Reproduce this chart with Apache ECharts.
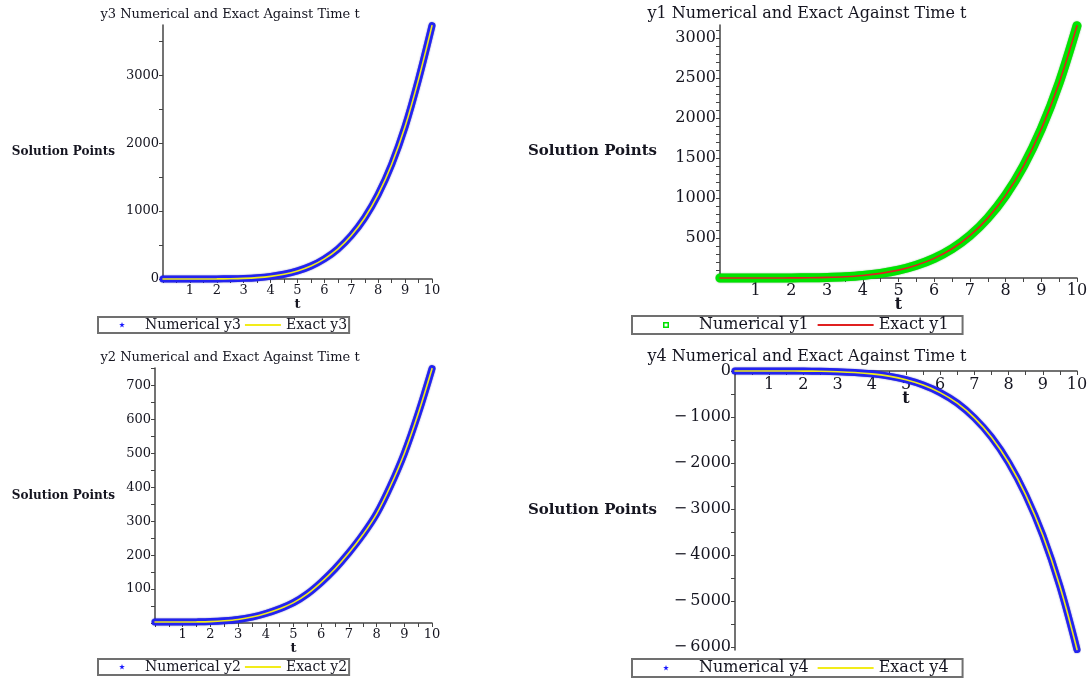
<!DOCTYPE html>
<html>
<head>
<meta charset="utf-8">
<script src="https://cdn.jsdelivr.net/npm/echarts@6/dist/echarts.min.js"></script>
<style>
html,body{margin:0;padding:0;background:#fff;}
#chart{width:1092px;height:681px;}
</style>
</head>
<body>
<div id="chart"></div>
<script>
// ---- data ----
const tPoints = [0,0.5,1,1.5,2,2.5,3,3.5,4,4.5,5,5.5,6,6.5,7,7.5,8,8.5,9,9.5,10];
const y1Values = [0,0,0,0.2,1,3,7.7,16.5,32,58,98,159,245,365,529,748,1032,1398,1860,2437,3150];
const y2Values = [3,3,3,3.3,4.2,6.5,10.5,17.5,28,42,60,86,120,160,207,260,322,404,500,617,750];
const y3Values = [0,0,0,0.3,1.2,3.7,9.2,20,39,70,119,191,296,441,640,902,1245,1686,2244,2940,3730];
const y4Values = [0,0,0,-0.5,-2,-6,-15,-32,-62,-112,-190,-306,-470,-700,-1020,-1440,-1990,-2695,-3575,-4685,-6060];

const titles = [
  'y3 Numerical and Exact Against Time t',
  'y1 Numerical and Exact Against Time t',
  'y2 Numerical and Exact Against Time t',
  'y4 Numerical and Exact Against Time t'
];
const xTickLabels = [1,2,3,4,5,6,7,8,9,10];
const y3TickLabels = [0,1000,2000,3000];
const y1TickLabels = [500,1000,1500,2000,2500,3000];
const y2TickLabels = [100,200,300,400,500,600,700];
const y4TickLabels = [0,-1000,-2000,-3000,-4000,-5000,-6000];

// ---- helpers ----
function pairs(ys){ return tPoints.map((t,i)=>[t, ys[i]]); }
function range(a,b,s){ const r=[]; for(let v=a; v<=b+1e-9; v+=s) r.push(+v.toFixed(6)); return r; }
const FONT = 'DejaVu Serif';
const TXT = '#151520';
const AXIS = '#444';

const starIcon = 'path://M0,0M36,10M18,2L18.71,4.03L20.85,4.07L19.14,5.37L19.76,7.43L18,6.2L16.24,7.43L16.86,5.37L15.15,4.07L17.29,4.03Z';
const starIconR = 'path://M0,0M56,10M28,2L28.71,4.03L30.85,4.07L29.14,5.37L29.76,7.43L28,6.2L26.24,7.43L26.86,5.37L25.15,4.07L27.29,4.03Z';
const lineIcon = 'path://M0,4L36,4L36,6L0,6Z';
const lineIconR = 'path://M0,4L52,4L52,6L0,6Z';
const squareIcon = 'path://M0,0M56,10M25,2L31,2L31,8L25,8ZM26.5,3.5L26.5,6.5L29.5,6.5L29.5,3.5Z';

const panels = [
  {grid:{left:163, top:25, width:269, height:254}, ys:y3Values, key:'y3', min:0, max:3740, ticks:y3TickLabels,
   tickVals:range(0,3500,500), fs:13, nameFs:12, nameGap:48, title:{x:225,y:3}, legend:{left:98, top:317}, right:false, top:false},
  {grid:{left:720, top:25, width:357, height:253}, ys:y1Values, key:'y1', min:0, max:3160, ticks:y1TickLabels,
   tickVals:range(0,3100,100), fs:16, nameFs:15, nameGap:63, title:{x:802,y:1}, legend:{left:632, top:316}, right:true, top:false},
  {grid:{left:155, top:368, width:277, height:255}, ys:y2Values, key:'y2', min:0, max:752, ticks:y2TickLabels,
   tickVals:range(0,750,50), fs:13, nameFs:12, nameGap:40, title:{x:225,y:346}, legend:{left:98, top:659}, right:false, top:false},
  {grid:{left:735, top:371, width:342, height:279}, ys:y4Values, key:'y4', min:-6070, max:0, ticks:y4TickLabels,
   tickVals:range(-6000,0,500), fs:16, nameFs:15, nameGap:78, title:{x:802,y:344}, legend:{left:632, top:659}, right:true, top:true}
];

const option = {
  animation:false,
  backgroundColor:'#fff',
  title:[], grid:[], xAxis:[], yAxis:[], legend:[], series:[]
};

panels.forEach((p,i)=>{
  option.title.push({text:titles[i], left:p.title.x, top:p.title.y, textAlign:'center',
    textStyle:{fontFamily:FONT, fontSize:p.fs, fontWeight:'normal', color:TXT}});
  option.grid.push(p.grid);
  option.xAxis.push({
    type:'value', gridIndex:i, min:0, max:10, interval:1,
    position: p.top ? 'top' : 'bottom',
    name:'t', nameLocation:'middle', nameGap: p.top ? -36 : 19, nameMoveOverlap:false,
    nameTextStyle:{fontFamily:FONT, fontSize:p.fs, fontWeight:'bold', color:TXT},
    axisLine:{show:true, onZero:false, lineStyle:{color:AXIS, width:1.5}},
    axisTick:{show:true, inside:p.top, length:4, customValues:range(0,10,0.5), lineStyle:{color:AXIS}},
    axisLabel:{customValues:xTickLabels, inside:p.top, margin:p.top?6:5, fontFamily:FONT, fontSize:p.fs, color:TXT},
    splitLine:{show:false}
  });
  option.yAxis.push({
    type:'value', gridIndex:i, min:p.min, max:p.max,
    name:'Solution Points', nameLocation:'middle', nameRotate:0, nameGap:p.nameGap,
    nameTextStyle:{fontFamily:FONT, fontSize:p.nameFs, fontWeight:'bold', color:TXT},
    axisLine:{show:true, onZero:false, lineStyle:{color:AXIS, width:1.5}},
    axisTick:{show:true, inside:false, length:4, customValues:p.tickVals, lineStyle:{color:AXIS}},
    axisLabel:{customValues:p.ticks, margin:4, fontFamily:FONT, fontSize:p.fs, color:TXT,
      formatter:v=> String(v).replace('-', '\u2212\u2009')},
    splitLine:{show:false}
  });
  const isY1 = p.key==='y1';
  const numName = 'Numerical '+p.key, exName = 'Exact '+p.key;
  option.series.push({
    name:numName, type:'line', xAxisIndex:i, yAxisIndex:i, data:pairs(p.ys),
    smooth:0.35, showSymbol:false, clip:false, z:2,
    itemStyle:{color:isY1?'#00e000':'#1a1aff'},
    lineStyle:{color:isY1?'#00e400':'#2323f0', width:isY1?9:7, cap:'round', join:'round',
      shadowColor:isY1?'rgba(0,120,0,0.6)':'rgba(0,0,140,0.6)', shadowBlur:1.5}
  });
  option.series.push({
    name:exName, type:'line', xAxisIndex:i, yAxisIndex:i, data:pairs(p.ys),
    smooth:0.35, showSymbol:false, clip:false, z:3,
    itemStyle:{color:isY1?'#e02020':'#f2ec1a'},
    lineStyle:{color:isY1?'#e02020':'#f2ec1a', width:1.6, cap:'round'}
  });
  option.legend.push({
    left:p.legend.left, top:p.legend.top, orient:'horizontal',
    padding:p.right ? [1, 14, 1, 6] : [1, 2, 1, 6],
    itemWidth:p.right?56:36, itemHeight:10, itemGap:p.right?9:4,
    borderColor:'#707070', borderWidth:2, borderRadius:0,
    selectedMode:false,
    textStyle:{fontFamily:FONT, fontSize:p.right?16:14, color:TXT},
    data:[
      {name:numName, icon: isY1 ? squareIcon : (p.right?starIconR:starIcon),
       itemStyle:{color:isY1?'#00e000':'#1a1aff', borderWidth:0}},
      {name:exName, icon: p.right?lineIconR:lineIcon,
       itemStyle:{color:isY1?'#e02020':'#f2ec1a', borderWidth:0}}
    ]
  });
});

const chart = echarts.init(document.getElementById('chart'), null, {renderer:'canvas'});
chart.setOption(option);
</script>
</body>
</html>
